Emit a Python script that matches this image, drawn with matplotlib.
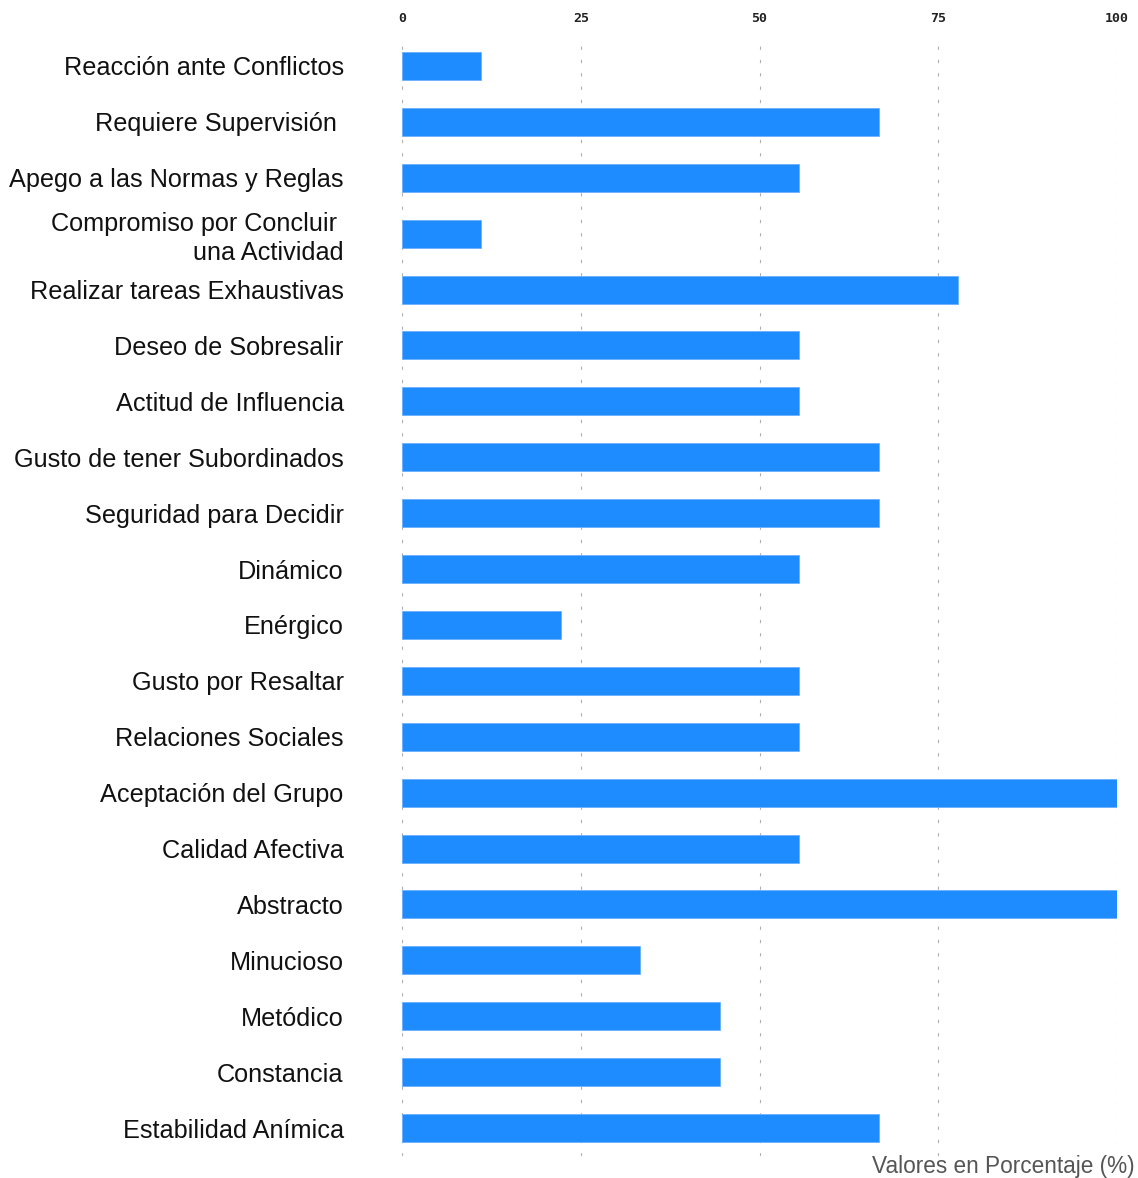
import matplotlib
matplotlib.use("Agg")
import matplotlib.pyplot as plt

categories = [
    "Reacción ante Conflictos",
    "Requiere Supervisión ",
    "Apego a las Normas y Reglas",
    "Compromiso por Concluir \nuna Actividad",
    "Realizar tareas Exhaustivas",
    "Deseo de Sobresalir",
    "Actitud de Influencia",
    "Gusto de tener Subordinados",
    "Seguridad para Decidir",
    "Dinámico",
    "Enérgico",
    "Gusto por Resaltar",
    "Relaciones Sociales",
    "Aceptación del Grupo",
    "Calidad Afectiva",
    "Abstracto",
    "Minucioso",
    "Metódico",
    "Constancia",
    "Estabilidad Anímica",
]
values = [11.11, 66.67, 55.56, 11.11, 77.78, 55.56, 55.56, 66.67, 66.67, 55.56,
          22.22, 55.56, 55.56, 100.0, 55.56, 100.0, 33.33, 44.44, 44.44, 66.67]
xticks = [0, 25, 50, 75, 100]
xlabel = "Valores en Porcentaje (%)"

W, H = 1138, 1178
fig = plt.figure(figsize=(W / 100, H / 100), dpi=100)
ax = fig.add_axes([402 / W, 1 - 1156 / H, 715 / W, 1118 / H])

ypos = list(range(len(categories)))
ax.barh(ypos, values, height=0.5, color="#1E8CFF", edgecolor="#6ab0ff", linewidth=0.6, zorder=3)

ax.set_xlim(0, 100)
ax.set_ylim(len(categories) - 0.5, -0.5)

for s in ax.spines.values():
    s.set_visible(False)

ax.set_xticks(xticks)
ax.set_xticklabels([str(t) for t in xticks], family="DejaVu Sans Mono", fontsize=9.5,
                   fontweight="bold")
ax.xaxis.tick_top()
ax.tick_params(axis="x", length=0, pad=9, colors="#222222")
ax.grid(axis="x", color="#b0b0b0", linestyle=(0, (3, 9)), linewidth=0.8, zorder=0)

ax.set_yticks(ypos)
ax.set_yticklabels(categories, family=["Liberation Sans", "DejaVu Sans"], fontsize=18.2,
                   color="#111111", ha="right", multialignment="right",
                   linespacing=1.25)
ax.tick_params(axis="y", length=0, pad=42)

fig.text(1135 / W, 1 - 1166 / H, xlabel, ha="right", va="center",
         family=["Liberation Sans", "DejaVu Sans"], fontsize=16.3, color="#555555")

fig.savefig("out.png", dpi=100)
